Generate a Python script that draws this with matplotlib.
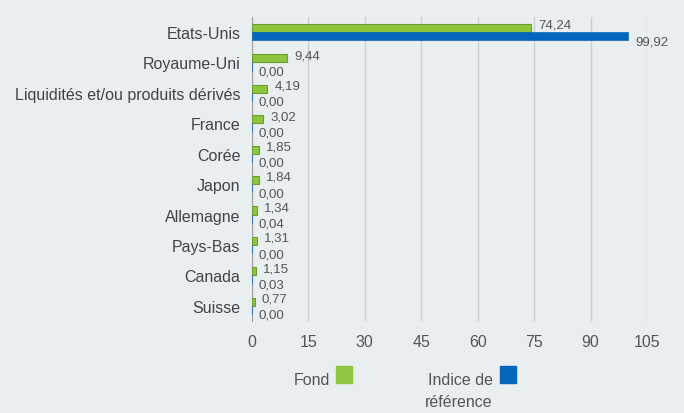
import numpy as np
import matplotlib.pyplot as plt
from matplotlib.patches import Rectangle

plt.rcParams['font.family'] = ['Liberation Sans', 'DejaVu Sans']

pays = ["Etats-Unis", "Royaume-Uni", "Liquidités et/ou produits dérivés", "France",
        "Corée", "Japon", "Allemagne", "Pays-Bas", "Canada", "Suisse"]
fond = [74.24, 9.44, 4.19, 3.02, 1.85, 1.84, 1.34, 1.31, 1.15, 0.77]
indice = [99.92, 0.00, 0.00, 0.00, 0.00, 0.00, 0.04, 0.00, 0.03, 0.00]
ticks = [0, 15, 30, 45, 60, 75, 90, 105]

bg = '#e9eef1'
green = '#8cc63f'
blue = '#0467bd'
txt = '#555555'

fig = plt.figure(figsize=(6.84, 4.14), dpi=100, facecolor=bg)
ax = fig.add_axes([0.368, 0.222, 0.578, 0.735], facecolor=bg)

y = np.arange(len(pays))
h = 0.27
ax.barh(y - h / 2, fond, height=h, color=green, edgecolor='#6e9e2e', linewidth=0.8, zorder=3)
ax.barh(y + h / 2, indice, height=h, color=blue, edgecolor=blue, linewidth=0.5, zorder=3)

def fmt(v):
    return f"{v:.2f}".replace('.', ',')

for yi, f, i in zip(y, fond, indice):
    ax.annotate(fmt(f), (f, yi - h / 2), xytext=(5, 2.3), textcoords='offset points',
                ha='left', va='center', fontsize=9.5, color=txt, zorder=4)
    ax.annotate(fmt(i), (i, yi + h / 2), xytext=(5, -3.6), textcoords='offset points',
                ha='left', va='center', fontsize=9.5, color=txt, zorder=4)

ax.set_ylim(len(pays) - 0.5, -0.5)
ax.set_xlim(0, 105)
ax.set_yticks(y)
ax.set_yticklabels(pays, fontsize=11.5, color='#444444')
ax.set_xticks(ticks)
ax.set_xticklabels([str(t) for t in ticks], fontsize=11.5, color=txt)
ax.tick_params(axis='both', length=0, pad=8)
ax.tick_params(axis='x', pad=9)
ax.grid(axis='x', color='#c9ced2', linewidth=1, zorder=0)
for s in ['top', 'right', 'bottom']:
    ax.spines[s].set_visible(False)
ax.spines['left'].set_color('#9aa0a4')
ax.spines['left'].set_zorder(2)

# legende
W, H = 684, 414
fig.text(330 / W, 1 - 381 / H, "Fond", ha='right', va='center', fontsize=11.5, color=txt)
fig.patches.append(Rectangle((336 / W, 1 - 384 / H), 16 / W, 17 / H, color=green,
                             transform=fig.transFigure, figure=fig))
fig.text(493 / W, 1 - 381 / H, "Indice de", ha='right', va='center', fontsize=11.5, color=txt)
fig.text(493 / W, 1 - 403 / H, "référence", ha='right', va='center', fontsize=11.5, color=txt)
fig.patches.append(Rectangle((500 / W, 1 - 384 / H), 16 / W, 17 / H, color=blue,
                             transform=fig.transFigure, figure=fig))

fig.savefig('out.png', dpi=100, facecolor=bg)
